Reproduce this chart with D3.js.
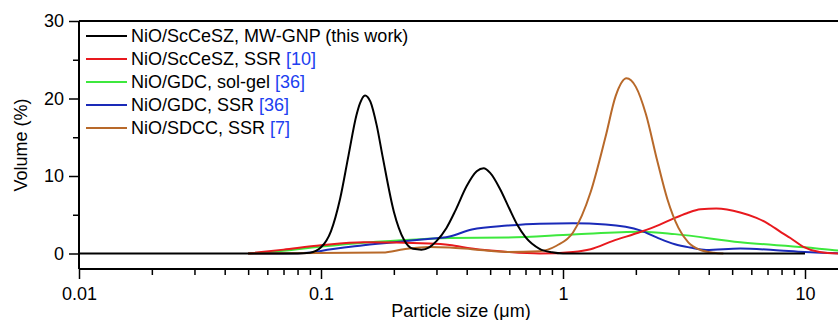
<!DOCTYPE html>
<html>
<head>
<meta charset="utf-8">
<script src="https://cdn.jsdelivr.net/npm/d3@7"></script>
<style>
  body { margin: 0; background: #fff; }
  svg { display: block; font-family: "Liberation Sans", Arial, sans-serif; }
</style>
</head>
<body>
<div id="chart"></div>
<script>
// particle size (um), volume (%)
const black = [[0.01,0],[0.08,0],[0.09,0.1],[0.1,0.8],[0.11,2.9],[0.12,7.1],[0.13,12.7],[0.14,17.8],[0.145,19.4],[0.152,20.4],[0.16,19.6],[0.17,16.5],[0.18,12.4],[0.2,5.4],[0.22,1.8],[0.24,0.6],[0.26,0.5],[0.28,0.8],[0.3,1.6],[0.33,3.3],[0.36,5.6],[0.4,8.7],[0.44,10.6],[0.47,11.0],[0.5,10.4],[0.55,8.3],[0.6,5.8],[0.65,3.6],[0.7,2.1],[0.8,0.6],[0.9,0.15],[1.0,0],[10,0]];
const red = [[0.05,0],[0.07,0.5],[0.1,1.05],[0.15,1.45],[0.28,1.28],[0.34,1.1],[0.42,0.64],[0.59,0.2],[0.8,0],[1.1,0.2],[1.3,0.55],[1.6,1.6],[2.1,2.8],[2.5,3.7],[2.9,4.6],[3.25,5.2],[3.7,5.7],[4.3,5.8],[5.4,5.3],[6.3,4.6],[7,3.9],[8,2.7],[8.7,2.0],[9.8,0.9],[11.5,0.2],[13.7,0]];
const green = [[0.05,0],[0.06,0.15],[0.1,0.9],[0.15,1.4],[0.26,1.85],[0.34,2.0],[0.59,2.05],[1.1,2.45],[2.1,2.8],[2.9,2.5],[5.4,1.45],[10,0.8],[13.7,0.4],[16,0.25]];
const blue = [[0.05,0],[0.07,0],[0.093,0.13],[0.1,0.33],[0.15,1.07],[0.26,1.8],[0.34,2.2],[0.42,3.1],[0.59,3.6],[0.8,3.85],[1.1,3.9],[1.5,3.75],[2.1,2.95],[2.45,2.05],[2.9,1.2],[3.35,0.77],[3.9,0.45],[5.4,0.64],[7.4,0.46],[10,0.2],[13.7,0.04],[16,0]];
const brown = [[0.05,0],[0.18,0.13],[0.22,0.55],[0.28,0.85],[0.34,0.77],[0.42,0.55],[0.59,0.2],[0.8,0.3],[0.94,1.0],[1.1,2.7],[1.3,7.9],[1.5,15.1],[1.65,20.3],[1.83,22.6],[2.0,21.5],[2.2,18.0],[2.45,12],[2.7,7],[3.0,3.3],[3.3,1.4],[3.7,0.45],[4.2,0.1],[4.6,0]];

const seriesNames = ["NiO/ScCeSZ, MW-GNP", "NiO/ScCeSZ, SSR", "NiO/GDC, sol-gel", "NiO/GDC, SSR", "NiO/SDCC, SSR"];
const seriesNotes = [" (this work)", " [10]", " [36]", " [36]", " [7]"];
const seriesColors = ["#000000", "#e8191e", "#3de83d", "#1a2ab8", "#b8692a"];
const seriesData = [black, red, green, blue, brown];

const xMajor = [0.01, 0.1, 1, 10];
const xMinor = [0.02,0.03,0.04,0.05,0.06,0.07,0.08,0.09,0.2,0.3,0.4,0.5,0.6,0.7,0.8,0.9,2,3,4,5,6,7,8,9];
const yMajor = [0, 10, 20, 30];
const yMinor = [5, 15, 25];

const width = 838;
const height = 320;
const margin = { top: 21, left: 79, bottom: 269 };

const svg = d3.select('#chart').append('svg')
  .attr('width', width)
  .attr('height', height);

const xScale = d3.scaleLog().domain([0.01, 15]).range([margin.left, margin.left + 242 * Math.log10(1500)]);
const yScale = d3.scaleLinear().domain([-2, 30]).range([margin.bottom, margin.top]);

// curves
const line = d3.line()
  .x(d => xScale(d[0]))
  .y(d => yScale(d[1]))
  .curve(d3.curveMonotoneX);

const drawOrder = [2, 3, 1, 4, 0];
svg.append('g').selectAll('path')
  .data(drawOrder)
  .join('path')
  .attr('d', i => line(seriesData[i]))
  .attr('fill', 'none')
  .attr('stroke', i => seriesColors[i])
  .attr('stroke-width', 2)
  .attr('stroke-linejoin', 'round');

// frame top
svg.append('line')
  .attr('x1', margin.left).attr('x2', width)
  .attr('y1', yScale(30)).attr('y2', yScale(30))
  .attr('stroke', '#000').attr('stroke-width', 2);

// x axis
const xAxisMajor = d3.axisBottom(xScale).tickValues(xMajor).tickSize(10).tickPadding(8)
  .tickFormat(d => String(d));
const xAxisMinor = d3.axisBottom(xScale).tickValues(xMinor).tickSize(6).tickFormat('');

const gx = svg.append('g').attr('transform', `translate(0,${margin.bottom})`).call(xAxisMajor);
const gxm = svg.append('g').attr('transform', `translate(0,${margin.bottom})`).call(xAxisMinor);
gxm.select('.domain').remove();

// y axis
const yAxisMajor = d3.axisLeft(yScale).tickValues(yMajor).tickSize(10).tickPadding(5);
const yAxisMinor = d3.axisLeft(yScale).tickValues(yMinor).tickSize(6).tickFormat('');
const gy = svg.append('g').attr('transform', `translate(${margin.left},0)`).call(yAxisMajor);
const gym = svg.append('g').attr('transform', `translate(${margin.left},0)`).call(yAxisMinor);
gym.select('.domain').remove();

svg.selectAll('.domain').attr('stroke-width', 2);
gx.select('.domain').attr('d', `M${margin.left},0H${width}`);
gy.select('.domain').attr('d', `M0,${margin.bottom}V${yScale(30)}`);
svg.selectAll('.tick line').attr('stroke-width', 1.5);
svg.selectAll('.tick text')
  .attr('font-size', 18)
  .attr('font-family', '"Liberation Sans", Arial, sans-serif')
  .attr('fill', '#000');

// axis titles
svg.append('text')
  .attr('x', 461).attr('y', 317)
  .attr('text-anchor', 'middle')
  .attr('font-size', 18)
  .text('Particle size (μm)');

svg.append('text')
  .attr('transform', `translate(27,145) rotate(-90)`)
  .attr('text-anchor', 'middle')
  .attr('font-size', 18)
  .text('Volume (%)');

// legend
const legend = svg.append('g');
seriesNames.forEach((name, i) => {
  const y = 36 + i * 23;
  legend.append('line')
    .attr('x1', 86).attr('x2', 127)
    .attr('y1', y).attr('y2', y)
    .attr('stroke', seriesColors[i]).attr('stroke-width', 2);
  const t = legend.append('text')
    .attr('x', 131).attr('y', y)
    .attr('dy', '0.35em')
    .attr('font-size', 18);
  t.append('tspan').text(name);
  t.append('tspan').attr('fill', i === 0 ? '#000' : '#2040f0').text(seriesNotes[i]);
});
</script>
</body>
</html>
